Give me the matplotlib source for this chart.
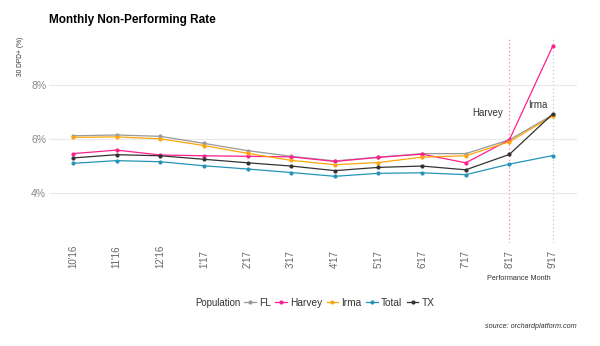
import matplotlib
matplotlib.use("Agg")
import matplotlib.pyplot as plt

plt.rcParams['font.family'] = ['Liberation Sans', 'DejaVu Sans']

# Data (30 DPD+ rate, %)
MONTHS = ["10'16", "11'16", "12'16", "1'17", "2'17", "3'17",
          "4'17", "5'17", "6'17", "7'17", "8'17", "9'17"]
FL = [6.12, 6.15, 6.10, 5.84, 5.57, 5.36, 5.19, 5.33, 5.46, 5.46, 5.97, 6.90]
HARVEY = [5.46, 5.59, 5.41, 5.38, 5.36, 5.34, 5.17, 5.32, 5.44, 5.12, 5.97, 9.46]
IRMA = [6.06, 6.08, 6.01, 5.76, 5.47, 5.21, 5.05, 5.13, 5.33, 5.38, 5.90, 6.86]
TOTAL = [5.10, 5.20, 5.16, 5.01, 4.89, 4.76, 4.62, 4.73, 4.75, 4.68, 5.07, 5.39]
TX = [5.30, 5.42, 5.38, 5.25, 5.12, 5.00, 4.83, 4.95, 5.00, 4.86, 5.43, 6.94]

SERIES = [("FL", FL, "#999999"),
          ("Harvey", HARVEY, "#ff1f8e"),
          ("Irma", IRMA, "#ffa50a"),
          ("Total", TOTAL, "#2593b8"),
          ("TX", TX, "#333333")]
Y_TICKS = [4, 6, 8]
EVENTS = [("Harvey", 10, "#ff7ab8"), ("Irma", 11, "#c8c8c8")]

fig = plt.figure(figsize=(6.0, 3.46), dpi=100)
ax = fig.add_axes([49 / 600, 1 - 243 / 346, 528 / 600, (243 - 36.7) / 346])

x = list(range(len(MONTHS)))
handles = []
for name, vals, color in SERIES:
    ln, = ax.plot(x, vals, color=color, lw=0.9, marker='o', ms=2.0,
                  label=name)
    handles.append(ln)

# event markers
for name, idx, color in EVENTS:
    ax.axvline(idx, color=color, lw=0.9, ls=(0, (1, 2)), zorder=0)
ax.text(9.85, 6.95, "Harvey", ha='right', va='center', fontsize=7,
        color='#333333')
ax.text(10.88, 7.25, "Irma", ha='right', va='center', fontsize=7,
        color='#333333')

ax.set_xlim(-0.55, 11.55)
ax.set_ylim(2.15, 9.79)
ax.set_yticks(Y_TICKS)
ax.set_yticklabels([f"{t}%" for t in Y_TICKS])
ax.set_xticks(x)
ax.set_xticklabels(MONTHS, rotation=90)
for lbl in ax.get_xticklabels():
    lbl.set_va('bottom')
ax.tick_params(axis='x', length=0, pad=18, labelsize=7, labelcolor='#666666')
ax.tick_params(axis='y', length=0, pad=2, labelsize=7.5, labelcolor='#888888')
ax.grid(axis='y', color='#e8e8e8', lw=0.8)
ax.set_axisbelow(True)
for sp in ax.spines.values():
    sp.set_visible(False)

# titles and labels
fig.text(49 / 600, 1 - 20 / 346, "Monthly Non-Performing Rate",
         fontsize=8.5, fontweight='bold', va='center', ha='left')
fig.text(20 / 600, 1 - 37 / 346, "30 DPD+ (%)", rotation=90, fontsize=4.8,
         ha='center', va='top', color='#333333')
fig.text(551 / 600, 1 - 278 / 346, "Performance Month", fontsize=5.2,
         ha='right', va='center', color='#333333')
fig.text(577 / 600, 1 - 326 / 346, "source: orchardplatform.com",
         fontsize=5.2, ha='right', va='center', style='italic',
         color='#333333')

# legend
fig.text(195 / 600, 1 - 303 / 346, "Population", fontsize=6.9, ha='left',
         va='center', color='#333333')
fig.legend(handles=handles, loc='center left',
           bbox_to_anchor=(244 / 600, 1 - 303 / 346), ncol=5, frameon=False,
           fontsize=7.3, handlelength=1.15, handletextpad=0.3,
           columnspacing=0.45, borderpad=0, borderaxespad=0,
           labelcolor='#333333')

fig.savefig("out.png", dpi=100)
